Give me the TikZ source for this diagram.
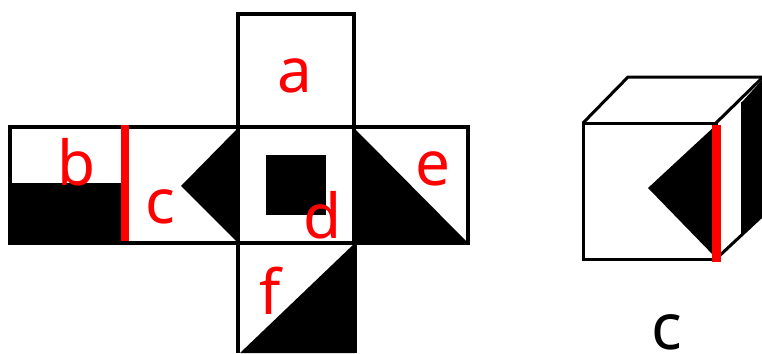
\documentclass[tikz,border=0pt]{standalone}
\usepackage{fontspec}
\setmainfont{Noto Sans}
\usepackage{xcolor}
\usepackage{tikz}
\usetikzlibrary{positioning, calc}

\tikzset{
  facebox/.style={draw=black, line width=4.5pt, miter limit=2},
  cubeline/.style={draw=black, line width=3pt, line join=miter},
  blackpart/.style={fill=black, draw=none},
  foldline/.style={draw=red, line width=8pt},
  facelabel/.style={text=red, inner sep=0pt, anchor=base, font=\fontsize{62}{62}\selectfont},
  answerlabel/.style={text=black, inner sep=0pt, anchor=base, font=\fontsize{64}{64}\selectfont}
}

\begin{document}
\begin{tikzpicture}[x=1pt, y=-1pt]
      \useasboundingbox (0, 0) rectangle (762, 353);

      % shaded parts of the net
      \fill[blackpart] (10, 183) rectangle (122, 243);
      \fill[blackpart] (238, 128) -- (181, 186) -- (238, 243) -- cycle;
      \fill[blackpart] (266, 155) rectangle (326, 215);
      \fill[blackpart] (354, 128) -- (468, 243) -- (354, 243) -- cycle;
      \fill[blackpart] (355, 243) -- (355, 353) -- (240, 353) -- cycle;

      % net outline
      \draw[facebox] (238, 127) -- (238, 14) -- (354, 14) -- (354, 127);
      \draw[facebox] (10, 127) rectangle (468, 243);
      \draw[facebox] (238, 127) -- (238, 243);
      \draw[facebox] (354, 127) -- (354, 243);
      \draw[facebox] (238, 243) -- (238, 353);
      \draw[facebox] (355, 243) -- (355, 353);
      \draw[foldline] (125, 125) -- (125, 241);

      % cube
      \fill[blackpart] (648, 188) -- (716, 125) -- (716, 258) -- cycle;
      \fill[blackpart] (742, 102) -- (762, 80) -- (762, 217) -- (742, 235) -- cycle;
      \draw[cubeline] (583, 123) rectangle (716, 259);
      \draw[cubeline] (583, 123) -- (628, 77) -- (762, 77);
      \draw[cubeline] (716, 123) -- (762, 78);
      \draw[cubeline] (716, 259) -- (762, 216);
      \draw[cubeline] (742, 102) -- (742, 235);
      \draw[red, line width=9pt] (716.5, 125) -- (716.5, 262);

      % labels
      \node[facelabel] (la) at (295, 92) {a};
      \node[facelabel] (lb) at (77, 185) {b};
      \node[facelabel] (lc) at (160, 223) {c};
      \node[facelabel] (ld) at (323, 238) {d};
      \node[facelabel] (le) at (433, 185) {e};
      \node[facelabel] (lf) at (270, 314) {f};
      \node[answerlabel] (lanswer) at (667, 349) {c};
\end{tikzpicture}
\end{document}
